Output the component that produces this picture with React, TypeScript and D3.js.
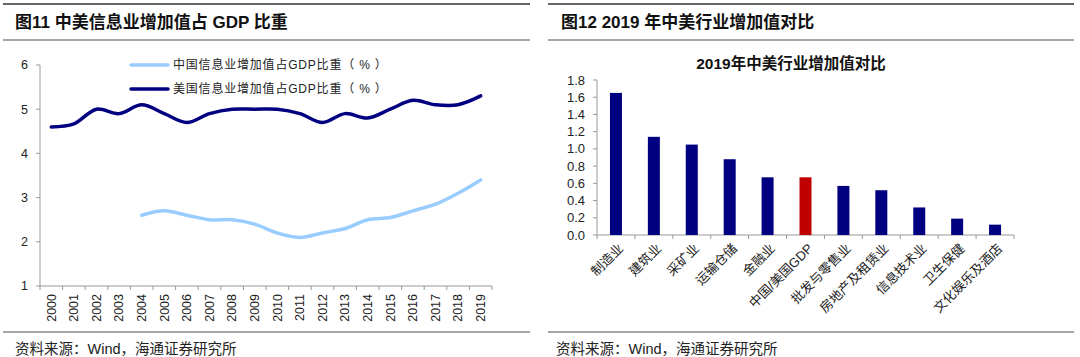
import React from "react";
import * as d3 from "d3";

const years = ["2000","2001","2002","2003","2004","2005","2006","2007","2008","2009","2010","2011","2012","2013","2014","2015","2016","2017","2018","2019"];
const usShare = [4.6,4.67,5.0,4.9,5.1,4.9,4.7,4.9,5.0,5.0,5.0,4.9,4.7,4.9,4.8,5.0,5.2,5.1,5.1,5.3];
const chinaYears = ["2004","2005","2006","2007","2008","2009","2010","2011","2012","2013","2014","2015","2016","2017","2018","2019"];
const chinaShare = [2.6,2.7,2.6,2.5,2.5,2.4,2.2,2.1,2.2,2.3,2.5,2.55,2.7,2.85,3.1,3.4];
const leftTicks = [1,2,3,4,5,6];
const legendLabels = ["中国信息业增加值占GDP比重（ % ）", "美国信息业增加值占GDP比重（ % ）"];

const industries = ["制造业","建筑业","采矿业","运输仓储","金融业","中国/美国GDP","批发与零售业","房地产及租赁业","信息技术业","卫生保健","文化娱乐及酒店"];
const ratios = [1.65,1.14,1.05,0.88,0.67,0.67,0.57,0.52,0.32,0.19,0.12];
const rightTicks = [0,0.2,0.4,0.6,0.8,1.0,1.2,1.4,1.6,1.8];

const FONT = "'Liberation Sans', Arial, 'Noto Sans CJK SC', sans-serif";

export default function App() {
  // Left chart scales
  const xL = d3.scaleBand().domain(years).range([40, 492]);
  const yL = d3.scaleLinear().domain([1, 6]).range([286, 65]);
  const line = d3.line<[string, number]>()
    .x(d => (xL(d[0]) as number) + xL.bandwidth() / 2)
    .y(d => yL(d[1]))
    .curve(d3.curveCatmullRom.alpha(0.5));
  const usPath = line(years.map((y, i) => [y, usShare[i]] as [string, number])) || "";
  const cnPath = line(chinaYears.map((y, i) => [y, chinaShare[i]] as [string, number])) || "";

  // Right chart scales
  const xR = d3.scaleBand().domain(industries).range([597, 1014]);
  const yR = d3.scaleLinear().domain([0, 1.8]).range([235, 80]);
  const barW = 12;

  return (
    <svg width={1080} height={357} style={{ position: "absolute", left: 0, top: 0, background: "#fff" }} fontFamily={FONT}>
      <rect x={0} y={0} width={1080} height={357} fill="#fff" />
      {/* Left panel frame */}
      <line x1={3} x2={530} y1={4} y2={4} stroke="#333" strokeWidth={1.5} />
      <line x1={3} x2={530} y1={40} y2={40} stroke="#888" strokeWidth={1.5} />
      <text x={15} y={28} fontSize={17} fontWeight="bold" fill="#111">图11 中美信息业增加值占 GDP 比重</text>
      <line x1={3} x2={530} y1={332} y2={332} stroke="#888" strokeWidth={1.5} />
      <text x={15} y={354} fontSize={14.5} fill="#222">资料来源：Wind，海通证券研究所</text>

      {/* Left axes */}
      <line x1={40} x2={40} y1={65} y2={286} stroke="#999" />
      {leftTicks.map(t => (
        <g key={t}>
          <line x1={36} x2={40} y1={yL(t)} y2={yL(t)} stroke="#999" />
          <text x={28} y={yL(t)} dy="0.35em" textAnchor="end" fontSize={12.5} fill="#222">{t}</text>
        </g>
      ))}
      <line x1={40} x2={492} y1={286} y2={286} stroke="#999" />
      {years.map((y, i) => (
        <line key={"t" + y} x1={(xL(y) as number) + xL.bandwidth()} x2={(xL(y) as number) + xL.bandwidth()} y1={286} y2={290} stroke="#999" />
      ))}
      <line x1={40} x2={40} y1={286} y2={290} stroke="#999" />
      {years.map(y => {
        const cx = (xL(y) as number) + xL.bandwidth() / 2;
        return (
          <text key={y} transform={`translate(${cx},${294}) rotate(-90)`} textAnchor="end" dy="0.35em" fontSize={12.5} fill="#222">{y}</text>
        );
      })}
      <path d={cnPath} fill="none" stroke="#99CCFF" strokeWidth={3.5} strokeLinecap="round" />
      <path d={usPath} fill="none" stroke="#000080" strokeWidth={3.5} strokeLinecap="round" />

      {/* Legend */}
      <line x1={131} x2={168} y1={65} y2={65} stroke="#99CCFF" strokeWidth={3.5} strokeLinecap="round" />
      <text x={173} y={65} dy="0.35em" fontSize={12} letterSpacing={0.8} fill="#222">{legendLabels[0]}</text>
      <line x1={131} x2={168} y1={89} y2={89} stroke="#000080" strokeWidth={3.5} strokeLinecap="round" />
      <text x={173} y={89} dy="0.35em" fontSize={12} letterSpacing={0.8} fill="#222">{legendLabels[1]}</text>

      {/* Right panel frame */}
      <line x1={548} x2={1074} y1={4} y2={4} stroke="#333" strokeWidth={1.5} />
      <line x1={548} x2={1074} y1={40} y2={40} stroke="#888" strokeWidth={1.5} />
      <text x={561} y={28} fontSize={17} fontWeight="bold" fill="#111">图12 2019 年中美行业增加值对比</text>
      <line x1={548} x2={1074} y1={332} y2={332} stroke="#888" strokeWidth={1.5} />
      <text x={556} y={354} fontSize={14.5} fill="#222">资料来源：Wind，海通证券研究所</text>

      <text x={791} y={64} dy="0.35em" textAnchor="middle" fontSize={15.5} fontWeight="bold" fill="#111">2019年中美行业增加值对比</text>

      {/* Right axes */}
      <line x1={597} x2={597} y1={80} y2={235} stroke="#999" />
      {rightTicks.map(t => (
        <g key={t}>
          <line x1={593} x2={597} y1={yR(t)} y2={yR(t)} stroke="#999" />
          <text x={585} y={yR(t)} dy="0.35em" textAnchor="end" fontSize={13} fill="#222">{t.toFixed(1)}</text>
        </g>
      ))}
      <line x1={597} x2={1014} y1={235} y2={235} stroke="#999" />
      <line x1={597} x2={597} y1={235} y2={239} stroke="#999" />
      {industries.map(c => (
        <line key={"rt" + c} x1={(xR(c) as number) + xR.bandwidth()} x2={(xR(c) as number) + xR.bandwidth()} y1={235} y2={239} stroke="#999" />
      ))}
      {industries.map((c, i) => {
        const cx = (xR(c) as number) + xR.bandwidth() / 2;
        return (
          <rect key={"b" + c} x={cx - barW / 2} y={yR(ratios[i])} width={barW} height={yR(0) - yR(ratios[i])}
            fill={c === "中国/美国GDP" ? "#C00000" : "#000080"} />
        );
      })}
      {industries.map(c => {
        const cx = (xR(c) as number) + xR.bandwidth() / 2;
        return (
          <text key={"l" + c} transform={`translate(${cx + 5},${246}) rotate(-45)`} textAnchor="end" dy="0.35em" fontSize={13} fill="#222">{c}</text>
        );
      })}
    </svg>
  );
}
